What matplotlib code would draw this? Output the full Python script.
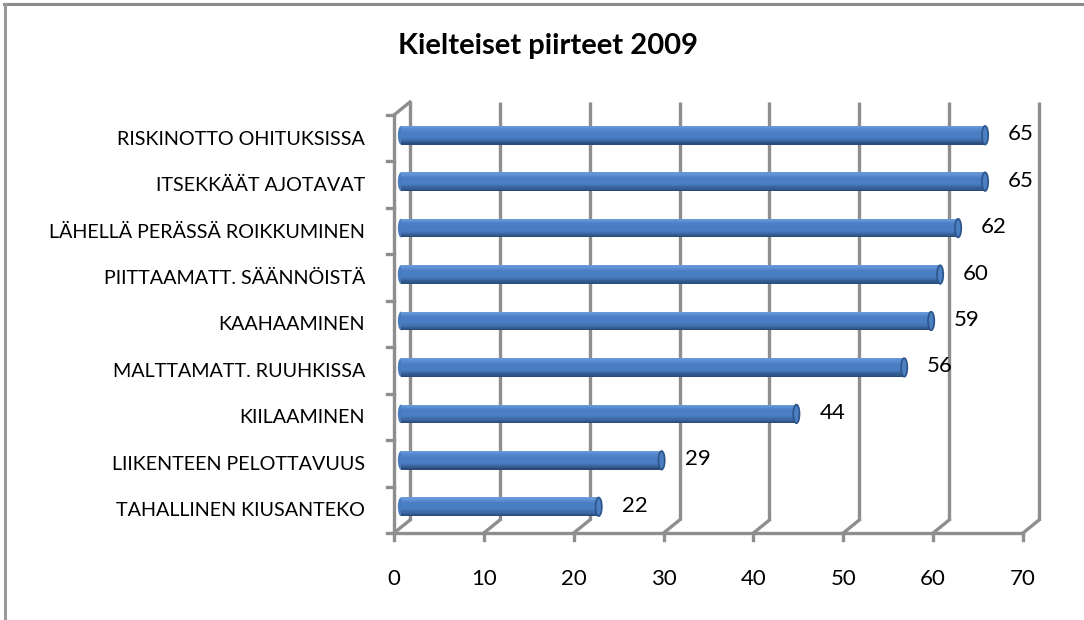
import matplotlib
matplotlib.use("Agg")
import matplotlib.pyplot as plt
import matplotlib.transforms as mtransforms
from matplotlib.patches import Ellipse
from matplotlib.lines import Line2D
import numpy as np

categories = [
    "RISKINOTTO OHITUKSISSA",
    "ITSEKKÄÄT AJOTAVAT",
    "LÄHELLÄ PERÄSSÄ ROIKKUMINEN",
    "PIITTAAMATT. SÄÄNNÖISTÄ",
    "KAAHAAMINEN",
    "MALTTAMATT. RUUHKISSA",
    "KIILAAMINEN",
    "LIIKENTEEN PELOTTAVUUS",
    "TAHALLINEN KIUSANTEKO",
]
values = [65, 65, 62, 60, 59, 56, 44, 29, 22]
xticks = [0, 10, 20, 30, 40, 50, 60, 70]
title = "Kielteiset piirteet 2009"

W, H, DPI = 1084, 620, 100
fig = plt.figure(figsize=(W / DPI, H / DPI), dpi=DPI)
fig.patch.set_facecolor("white")

# front plane of the 3D box, in pixels
fl, fr, fb, ft = 394, 1023, 533, 115
ax = fig.add_axes([fl / W, 1 - fb / H, (fr - fl) / W, (fb - ft) / H])
ax.set_xlim(0, 70)
n = len(categories)
ax.set_ylim(n - 0.5, -0.5)
ax.axis("off")

grid_c = "#8e8e8e"
lw = 2.4

def shift(dx, dy):
    return ax.transData + mtransforms.ScaledTranslation(dx / DPI, dy / DPI, fig.dpi_scale_trans)

back = shift(16, 13)
mid = shift(7, 3)

ylo, yhi = n - 0.5, -0.5
# back wall gridlines
for v in xticks:
    ax.plot([v, v], [ylo, yhi], color=grid_c, lw=lw, transform=back, clip_on=False,
            solid_capstyle="butt", zorder=1)
# floor diagonals from front bottom to back bottom
for v in xticks:
    p0 = ax.transData.transform((v, ylo))
    p1 = back.transform((v, ylo))
    fig.add_artist(Line2D([p0[0] / W, p1[0] / W], [p0[1] / H, p1[1] / H], color=grid_c, lw=lw,
                          zorder=1))
# top-left diagonal
p0 = ax.transData.transform((0, yhi))
p1 = back.transform((0, yhi))
fig.add_artist(Line2D([p0[0] / W, p1[0] / W], [p0[1] / H, p1[1] / H], color=grid_c, lw=lw, zorder=1))

# front left axis and bottom axis
ax.plot([0, 0], [ylo, yhi], color=grid_c, lw=lw, clip_on=False, zorder=2)
ax.plot([0, 70], [ylo, ylo], color=grid_c, lw=lw, clip_on=False, zorder=2)
# ticks
tick_px = 7
for b in np.arange(-0.5, n, 1.0):
    p = ax.transData.transform((0, b))
    fig.add_artist(Line2D([(p[0] - tick_px) / W, p[0] / W], [p[1] / H, p[1] / H], color=grid_c, lw=lw))
for v in xticks:
    p = ax.transData.transform((v, ylo))
    fig.add_artist(Line2D([p[0] / W, p[0] / W], [p[1] / H, (p[1] - tick_px) / H], color=grid_c, lw=lw))

# cylinders
bar_h = 0.40
nslices = 16
light = np.array([0x6c, 0x9c, 0xdc]) / 255
midc = np.array([0x4a, 0x7e, 0xc4]) / 255
dark = np.array([0x26, 0x45, 0x70]) / 255
ypos = np.arange(n)
for k in range(nslices):
    t = (k + 0.5) / nslices  # 0 top -> 1 bottom
    if t < 0.3:
        c = light + (midc - light) * (t / 0.3)
    elif t < 0.6:
        c = midc
    else:
        c = midc + (dark - midc) * ((t - 0.6) / 0.4) ** 1.3
    yy = ypos - bar_h / 2 + (k + 0.5) * bar_h / nslices
    ax.barh(yy, values, height=bar_h / nslices + 0.002, left=0, color=c, edgecolor="none",
            transform=mid, zorder=3)
ew = 0.7
for y, v in zip(ypos, values):
    ax.add_patch(Ellipse((0, y), ew, bar_h, facecolor="#4a7cbd", edgecolor="none",
                         transform=mid, zorder=2.9))
    ax.add_patch(Ellipse((v, y), ew, bar_h, facecolor="#4a7fc2", edgecolor="#2d5488", lw=1.2,
                         transform=mid, zorder=4))
    ax.text(v, y, str(v), transform=shift(7 + 36, 3 + 1), ha="center", va="center",
            fontsize=16, family="Lato", color="black", zorder=5)

# category labels
for y, c in zip(ypos, categories):
    ax.text(0, y, c, transform=shift(-29, -1), ha="right", va="center", fontsize=14.2,
            family="Lato", color="black")
# x tick labels
for v in xticks:
    ax.text(v, ylo, str(v), transform=shift(0, -46), ha="center", va="center", fontsize=16,
            family="Lato", color="black")

fig.text(548 / W, 1 - 46 / H, title, ha="center", va="center", fontsize=21, fontweight="bold",
         family="Lato")

# outer frame (top and left edges)
fig.add_artist(Line2D([4 / W, 1], [1 - 4 / H, 1 - 4 / H], color="#8a8a8a", lw=2.2))
fig.add_artist(Line2D([5 / W, 5 / W], [0, 1 - 4 / H], color="#9a9a9a", lw=2.2))

fig.savefig("out.png", dpi=DPI)
